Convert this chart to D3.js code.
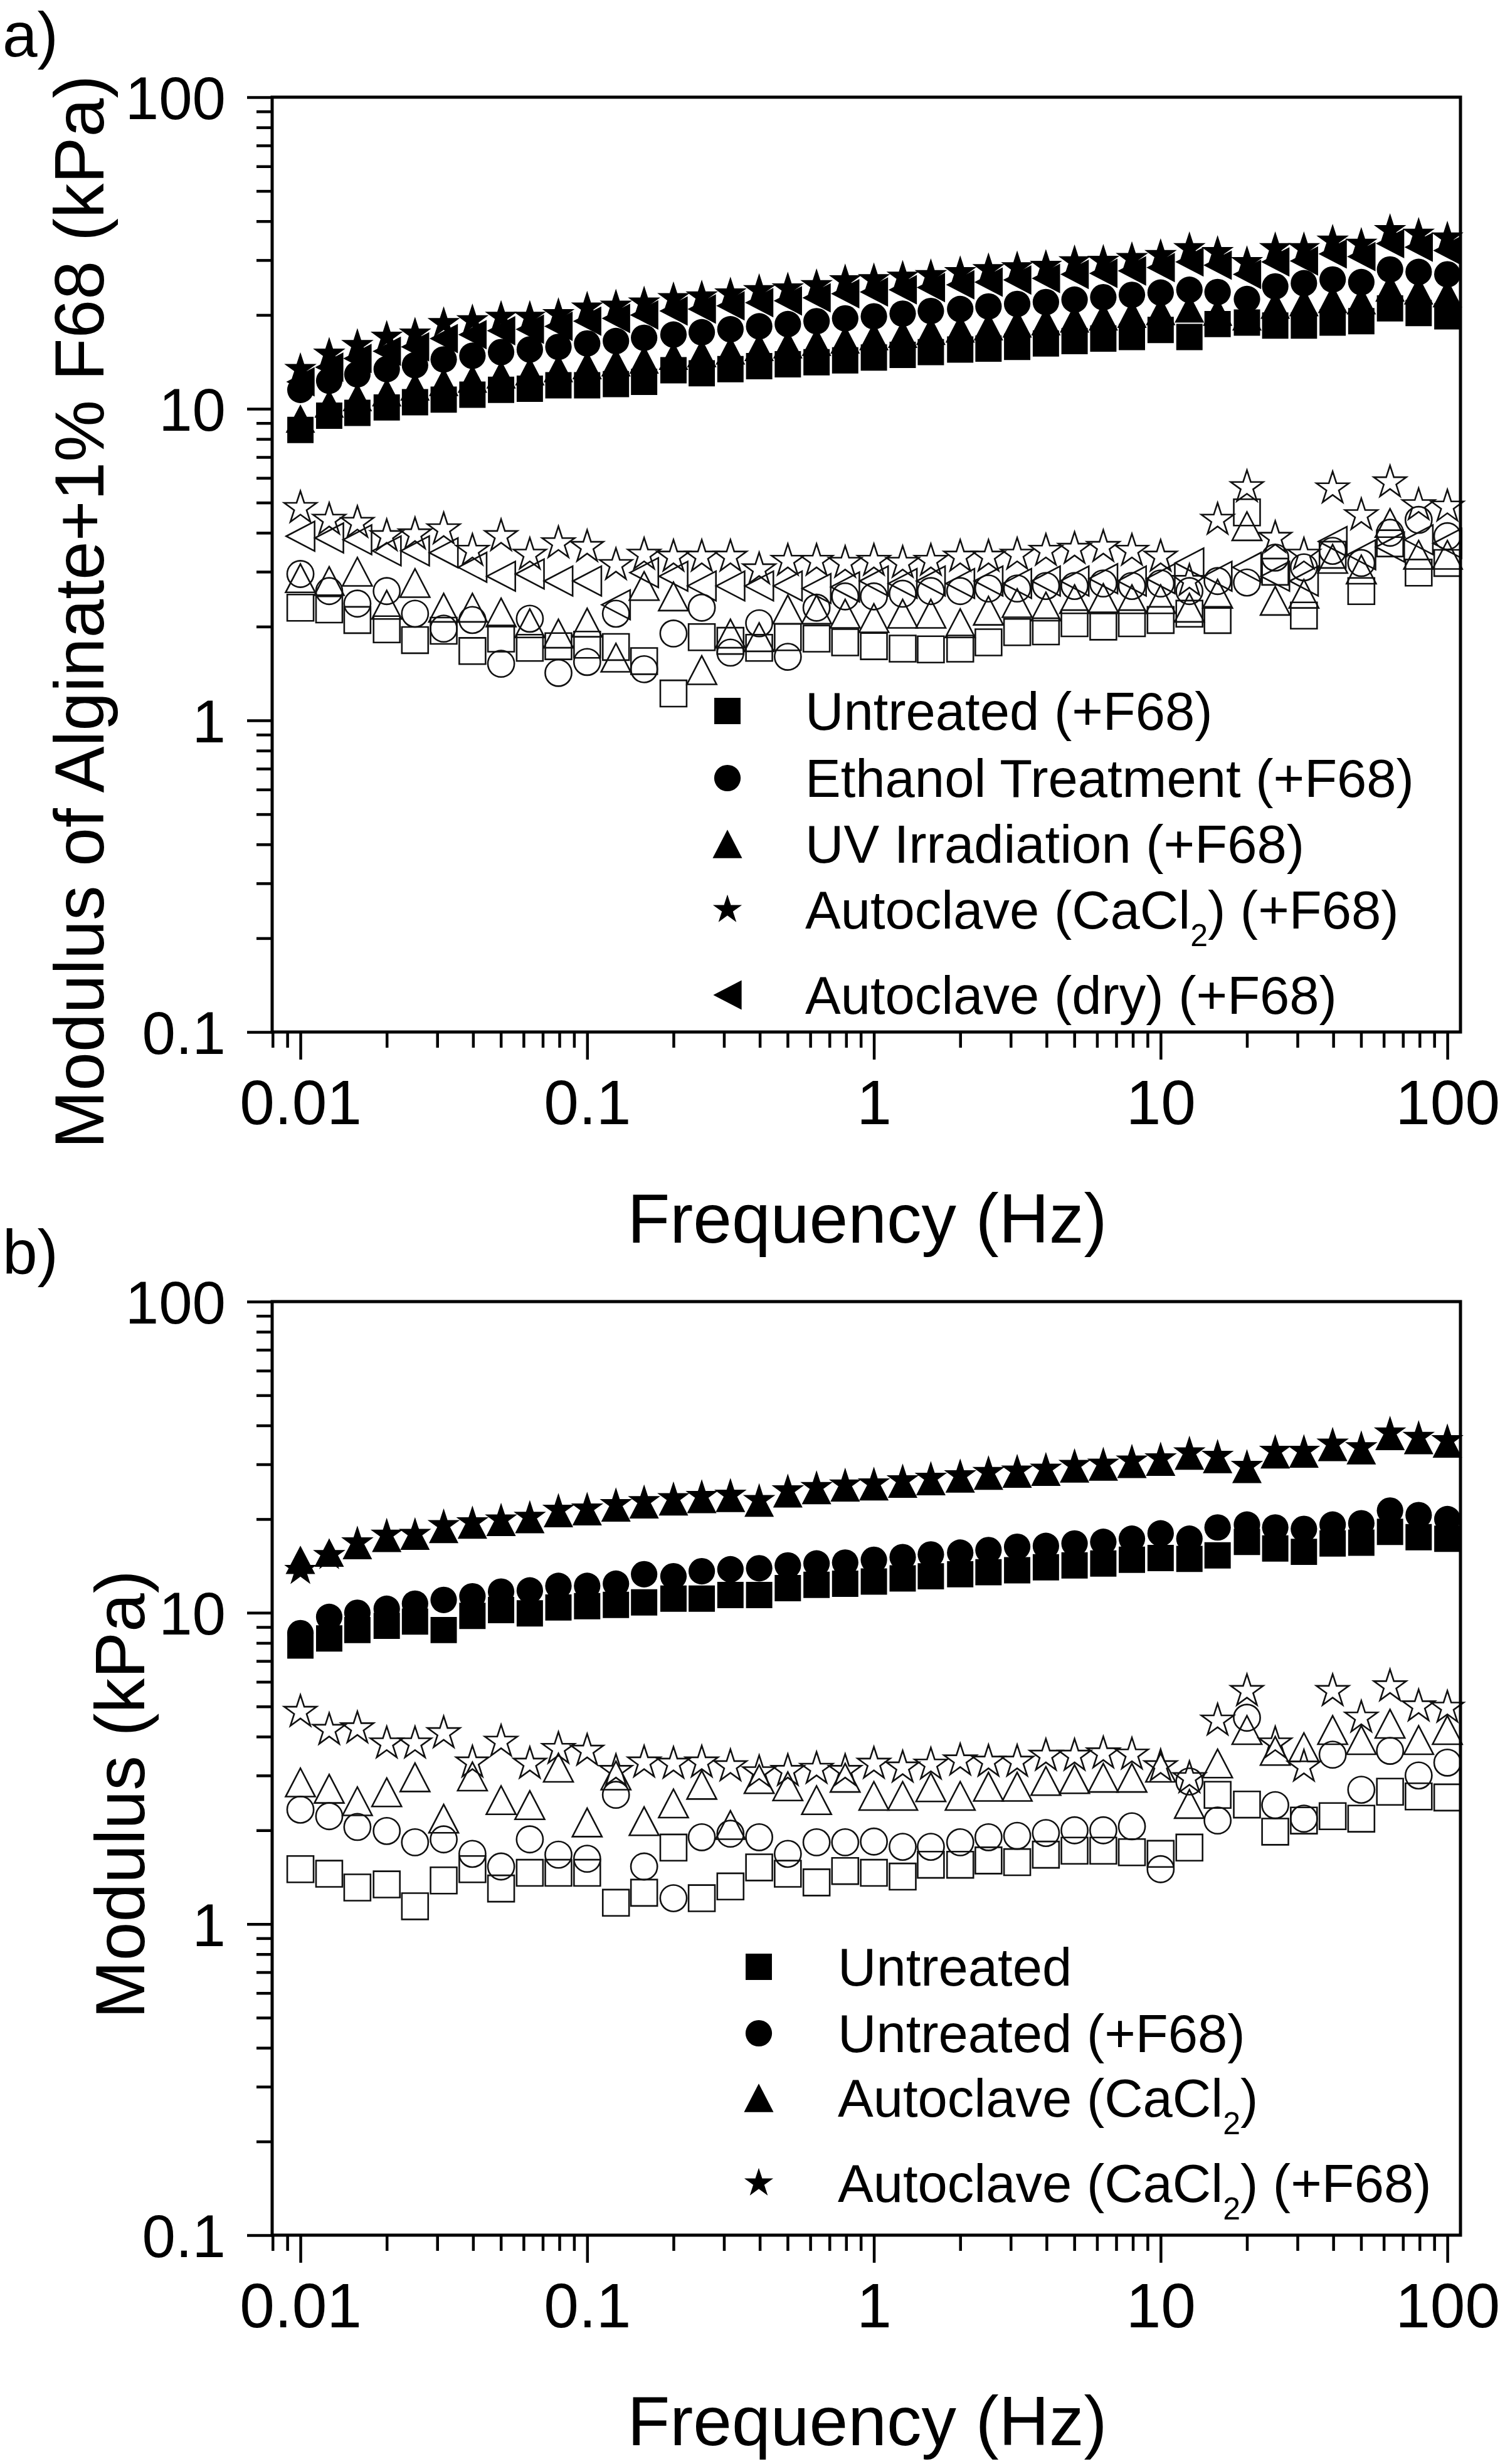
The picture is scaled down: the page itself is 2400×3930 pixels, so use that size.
<!DOCTYPE html>
<html><head><meta charset="utf-8">
<script src="https://cdn.jsdelivr.net/npm/d3@7"></script>
<style>
body{margin:0;background:#fff}
svg{display:block;background:#fff}
text{font-family:"Liberation Sans",Arial,Helvetica,sans-serif;fill:#000}
</style>
</head><body>
<svg id="chart" width="2400" height="3930"></svg>
<script>
// ---------------- DATA ----------------
const freq = [0.01,0.0126,0.0158,0.02,0.0251,0.0316,0.0398,0.0501,0.0631,0.0794,
  0.1,0.126,0.158,0.2,0.251,0.316,0.398,0.501,0.631,0.794,
  1,1.26,1.58,2,2.51,3.16,3.98,5.01,6.31,7.94,
  10,12.6,15.8,20,25.1,31.6,39.8,50.1,63.1,79.4,100];

const xTickValues = [0.01,0.1,1,10,100];
const xTickLabels = ["0.01","0.1","1","10","100"];
const yTickValues = [0.1,1,10,100];
const yTickLabels = ["0.1","1","10","100"];

// Panel a — storage (filled) and loss (open) moduli, kPa
const aUntreatedF68_storage = [8.55,9.5,9.7,10.1,10.5,10.7,11.1,11.5,11.6,11.9,11.9,12.0,12.2,13.3,13.0,13.4,13.7,13.9,14.1,14.3,14.6,14.9,15.2,15.5,15.6,15.8,16.2,16.5,16.8,17.0,17.9,17.0,18.7,18.9,18.5,18.5,18.9,19.1,21.0,20.3,19.8];
const aEthanolF68_storage = [11.5,12.3,12.9,13.4,13.8,14.4,14.8,15.2,15.5,15.8,16.2,16.5,16.9,17.3,17.6,18.0,18.4,18.7,19.1,19.5,19.8,20.2,20.6,20.9,21.3,21.7,22.0,22.4,22.8,23.2,23.6,24.1,23.7,22.5,24.7,25.3,26.0,25.5,28.0,27.5,27.0];
const aUVF68_storage = [9.3,10.4,10.9,11.3,11.8,12.2,12.5,12.9,13.2,13.5,13.8,14.1,14.4,14.8,15.1,15.4,15.8,16.1,16.4,16.7,17.1,17.4,17.8,18.1,18.4,18.8,19.1,19.5,19.8,20.2,20.6,21.0,20.5,19.8,21.6,22.0,22.5,22.3,24.5,24.0,23.5];
const aAutoCaF68_storage = [13.4,15.0,16.0,17.0,17.4,18.8,19.2,19.7,19.7,20.1,21.1,21.4,21.9,22.6,22.9,23.4,24.0,24.3,24.9,25.8,26.0,26.5,26.8,27.4,28.0,28.4,28.7,29.7,29.8,30.4,31.1,32.7,31.8,29.5,32.7,32.7,34.6,33.8,37.4,36.4,35.4];
const aAutoDryF68_storage = [12.2,13.6,14.5,15.3,15.8,16.8,17.3,17.8,18.0,18.4,19.1,19.5,20.0,20.6,20.9,21.4,21.9,22.2,22.7,23.4,23.7,24.1,24.5,25.0,25.5,25.9,26.2,27.0,27.2,27.7,28.4,29.6,28.9,27.0,29.6,29.8,31.4,30.8,33.9,33.0,32.2];

const aUntreatedF68_loss = [2.30,2.27,2.10,1.96,1.81,1.94,1.67,1.83,1.71,1.73,1.75,1.72,1.55,1.22,1.85,1.80,1.71,1.85,1.83,1.78,1.73,1.70,1.69,1.70,1.78,1.92,1.93,2.05,2.00,2.05,2.10,2.20,2.10,4.65,3.00,2.17,3.40,2.60,3.70,2.98,3.20];
const aEthanolF68_loss = [2.95,2.60,2.37,2.60,2.20,1.97,2.10,1.52,2.12,1.42,1.54,2.20,1.46,1.90,2.30,1.65,2.05,1.60,2.30,2.50,2.50,2.55,2.60,2.60,2.65,2.65,2.70,2.70,2.75,2.70,2.75,2.60,2.80,2.77,3.33,3.10,3.50,3.20,4.00,4.40,3.90];
const aUVF68_loss = [2.86,2.80,3.00,2.35,2.76,2.30,2.30,2.22,2.05,1.90,2.06,1.59,2.70,2.50,1.45,1.90,1.85,2.27,2.27,2.20,2.13,2.20,2.20,2.05,2.25,2.38,2.32,2.45,2.47,2.45,2.45,2.30,2.55,4.20,2.42,2.55,3.30,3.05,4.30,3.40,3.40];
const aAutoCaF68_loss = [4.80,4.40,4.30,3.90,3.95,4.10,3.50,3.90,3.40,3.70,3.60,3.15,3.40,3.35,3.35,3.35,3.05,3.25,3.25,3.20,3.25,3.20,3.25,3.35,3.35,3.40,3.50,3.55,3.60,3.50,3.35,2.80,4.40,5.60,3.85,3.40,5.55,4.55,5.80,4.90,4.85];
const aAutoDryF68_loss = [3.90,3.85,3.80,3.50,3.50,3.45,3.10,2.90,2.95,2.80,2.80,2.35,2.98,2.90,2.70,2.70,2.70,2.70,2.65,2.68,2.80,2.75,2.80,2.75,2.80,2.75,2.80,2.80,2.85,2.80,2.85,3.20,2.90,3.10,2.90,2.80,3.75,3.40,3.60,3.80,3.70];

// Panel b
const bUntreated_storage = [7.85,8.27,8.80,9.08,9.37,8.80,9.77,10.2,9.96,10.4,10.5,10.6,10.8,11.1,11.1,11.4,11.4,12.0,12.3,12.4,12.6,12.9,13.1,13.3,13.5,13.7,14.0,14.2,14.4,14.8,15.0,14.9,15.3,16.9,16.1,15.7,16.7,16.8,18.2,17.5,17.3];
const bUntreatedF68_storage = [8.6,9.7,10.0,10.3,10.7,11.0,11.3,11.7,11.8,12.2,12.2,12.4,13.3,13.1,13.6,13.8,13.9,14.2,14.4,14.5,14.8,15.1,15.4,15.6,15.9,16.3,16.4,16.7,16.9,17.3,18.0,17.3,18.8,19.2,18.8,18.6,19.2,19.4,21.3,20.6,20.0];
const bAutoCa_storage = [14.8,15.6,16.5,17.4,17.7,18.6,19.2,19.6,20.0,20.9,21.2,21.8,22.3,22.8,23.2,23.4,22.6,24.2,24.8,25.3,25.5,26.0,26.5,27.0,27.6,28.0,28.4,29.1,29.5,30.1,30.6,32.0,31.2,29.0,32.3,32.5,34.1,33.3,37.0,35.9,35.0];
const bAutoCaF68_storage = [13.7,15.3,16.8,17.8,17.9,19.1,19.5,19.9,20.3,21.4,21.6,22.3,22.8,23.3,23.7,23.9,23.0,24.7,25.3,25.8,26.0,26.6,27.1,27.6,28.3,28.6,29.0,29.8,30.1,30.8,31.3,32.7,31.9,29.6,33.1,33.1,34.9,34.0,37.9,36.7,35.8];

const bUntreated_loss = [1.50,1.45,1.31,1.34,1.14,1.38,1.50,1.30,1.46,1.46,1.46,1.17,1.26,1.76,1.21,1.32,1.52,1.45,1.36,1.48,1.46,1.42,1.55,1.55,1.60,1.58,1.67,1.72,1.72,1.70,1.68,1.76,2.60,2.42,1.98,2.15,2.22,2.18,2.66,2.57,2.55];
const bUntreatedF68_loss = [2.33,2.22,2.05,1.99,1.83,1.87,1.68,1.53,1.87,1.67,1.62,2.60,1.53,1.21,1.90,1.95,1.90,1.68,1.83,1.83,1.84,1.77,1.77,1.83,1.90,1.92,1.96,2.00,2.00,2.06,1.50,2.87,2.15,4.60,2.41,2.18,3.50,2.70,3.60,3.00,3.30];
const bAutoCa_loss = [2.85,2.72,2.48,2.65,2.96,2.18,2.98,2.50,2.41,3.18,2.12,3.00,2.14,2.44,2.80,2.08,2.92,2.77,2.50,2.95,2.58,2.58,2.75,2.58,2.76,2.76,2.88,2.92,2.95,2.95,3.18,2.43,3.28,4.20,3.60,3.70,4.20,3.90,4.40,3.90,4.20];
const bAutoCaF68_loss = [4.80,4.20,4.25,3.80,3.80,4.10,3.30,3.85,3.27,3.65,3.60,3.10,3.30,3.27,3.30,3.21,3.07,3.10,3.15,3.10,3.27,3.18,3.25,3.35,3.32,3.32,3.47,3.47,3.53,3.50,3.21,2.94,4.50,5.60,3.80,3.20,5.60,4.60,5.80,5.00,4.95];

const aLabels = ["Untreated (+F68)","Ethanol Treatment (+F68)","UV Irradiation (+F68)","Autoclave (CaCl{2}) (+F68)","Autoclave (dry) (+F68)"];
const bLabels = ["Untreated","Untreated (+F68)","Autoclave (CaCl{2})","Autoclave (CaCl{2}) (+F68)"];

// ---------------- SYMBOLS ----------------
const symTriUp = {draw(c,size){const s=Math.sqrt(size)/2;c.moveTo(0,-s);c.lineTo(s*1.04,s);c.lineTo(-s*1.04,s);c.closePath();}};
const symTriLeft = {draw(c,size){const s=Math.sqrt(size)/2;c.moveTo(-s,0);c.lineTo(s,-s*1.04);c.lineTo(s,s*1.04);c.closePath();}};
const SHAPES = {
  square:{type:d3.symbolSquare,size:1760},
  circle:{type:d3.symbolCircle,size:1400},
  triangle:{type:symTriUp,size:2050},
  star:{type:d3.symbolStar,size:830},
  left:{type:symTriLeft,size:2050}
};

// ---------------- LAYOUT ----------------
const svg = d3.select("#chart");
const L = 434, R = 2329;
const x = d3.scaleLog().domain([0.00797,111.1]).range([L,R]);

const panels = [
  {top:155,bottom:1646,letter:"a)",letterY:90,yTitle:"Modulus of Alginate+1% F68 (kPa)",yTitleX:165,yTitleY:976,xTitleY:1982,
   series:[
     {shape:"square",s:aUntreatedF68_storage,l:aUntreatedF68_loss},
     {shape:"circle",s:aEthanolF68_storage,l:aEthanolF68_loss},
     {shape:"triangle",s:aUVF68_storage,l:aUVF68_loss},
     {shape:"star",s:aAutoCaF68_storage,l:aAutoCaF68_loss},
     {shape:"left",s:aAutoDryF68_storage,l:aAutoDryF68_loss}],
   labels:aLabels,legend:{mx:1160,tx:1284,rows:[1134,1241,1346,1451,1587]}},
  {top:2076,bottom:3565,letter:"b)",letterY:2032,yTitle:"Modulus (kPa)",yTitleX:230,yTitleY:2862,xTitleY:3900,
   series:[
     {shape:"square",s:bUntreated_storage,l:bUntreated_loss},
     {shape:"circle",s:bUntreatedF68_storage,l:bUntreatedF68_loss},
     {shape:"triangle",s:bAutoCa_storage,l:bAutoCa_loss},
     {shape:"star",s:bAutoCaF68_storage,l:bAutoCaF68_loss}],
   labels:bLabels,legend:{mx:1210,tx:1336,rows:[3137,3243,3346,3482]}}
];

function addLabel(sel, str){
  const parts = str.split(/(\{[^}]*\})/).filter(p=>p.length);
  let pendingUp = false;
  parts.forEach(p=>{
    if(p[0]==="{"){
      sel.append("tspan").attr("font-size",50).attr("dy",28).text(p.slice(1,-1));
      pendingUp = true;
    } else {
      const t = sel.append("tspan").text(p);
      if(pendingUp){ t.attr("dy",-28); pendingUp=false; }
    }
  });
}

panels.forEach(P=>{
  const y = d3.scaleLog().domain([0.1,100]).range([P.bottom,P.top]);
  const g = svg.append("g");

  // open (loss) markers
  P.series.forEach(S=>{
    const sh = SHAPES[S.shape];
    const sym = d3.symbol().type(sh.type).size(sh.size);
    g.append("g").selectAll("path").data(S.l.map((v,i)=>[freq[i],v])).join("path")
      .attr("d",sym).attr("transform",d=>`translate(${x(d[0])},${y(d[1])})`)
      .attr("fill","none").attr("stroke","#111").attr("stroke-width",2.6);
  });
  // filled (storage) markers
  P.series.forEach(S=>{
    const sh = SHAPES[S.shape];
    const sym = d3.symbol().type(sh.type).size(sh.size);
    g.append("g").selectAll("path").data(S.s.map((v,i)=>[freq[i],v])).join("path")
      .attr("d",sym).attr("transform",d=>`translate(${x(d[0])},${y(d[1])})`)
      .attr("fill","#000");
  });

  // frame
  g.append("rect").attr("x",L).attr("y",P.top).attr("width",R-L).attr("height",P.bottom-P.top)
    .attr("fill","none").attr("stroke","#000").attr("stroke-width",5);

  // x axis major/minor
  const xMinor = x.ticks().filter(t=>Math.abs(Math.log10(t)-Math.round(Math.log10(t)))>1e-6);
  const xa = g.append("g").attr("transform",`translate(0,${P.bottom})`)
    .call(d3.axisBottom(x).tickValues(xTickValues).tickFormat((d,i)=>xTickLabels[i]).tickSizeInner(44).tickSizeOuter(0).tickPadding(32));
  const xm = g.append("g").attr("transform",`translate(0,${P.bottom})`)
    .call(d3.axisBottom(x).tickValues(xMinor).tickFormat("").tickSizeInner(25).tickSizeOuter(0));
  // y axis major/minor
  const yMinor = y.ticks().filter(t=>Math.abs(Math.log10(t)-Math.round(Math.log10(t)))>1e-6);
  const ya = g.append("g").attr("transform",`translate(${L},0)`)
    .call(d3.axisLeft(y).tickValues(yTickValues).tickFormat((d,i)=>yTickLabels[i]).tickSizeInner(40).tickSizeOuter(0).tickPadding(34));
  const ym = g.append("g").attr("transform",`translate(${L},0)`)
    .call(d3.axisLeft(y).tickValues(yMinor).tickFormat("").tickSizeInner(25).tickSizeOuter(0));
  [xa,xm,ya,ym].forEach(a=>{
    a.select(".domain").remove();
    a.selectAll("line").attr("stroke","#000").attr("stroke-width",4.5);
    a.attr("font-family",null);
  });
  xa.selectAll("text").attr("font-size",100).attr("fill","#000");
  ya.selectAll("text").attr("font-size",96).attr("fill","#000").attr("dy","0.36em");

  // titles
  g.append("text").attr("x",1383).attr("y",P.xTitleY).attr("text-anchor","middle").attr("font-size",111).text("Frequency (Hz)");
  g.append("text").attr("transform",`translate(${P.yTitleX},${P.yTitleY}) rotate(-90)`).attr("text-anchor","middle").attr("font-size",111).text(P.yTitle);
  g.append("text").attr("x",4).attr("y",P.letterY).attr("font-size",100).text(P.letter);

  // legend
  const lg = g.append("g");
  P.labels.forEach((lab,i)=>{
    const S = P.series[i], sh = SHAPES[S.shape];
    const ry = P.legend.rows[i];
    lg.append("path").attr("d",d3.symbol().type(sh.type).size(sh.size*(S.shape==="star"?0.8:1.0))())
      .attr("transform",`translate(${P.legend.mx},${ry})`).attr("fill","#000");
    const t = lg.append("text").attr("x",P.legend.tx).attr("y",ry+30).attr("font-size",85);
    addLabel(t,lab);
  });
});
</script>
</body></html>
